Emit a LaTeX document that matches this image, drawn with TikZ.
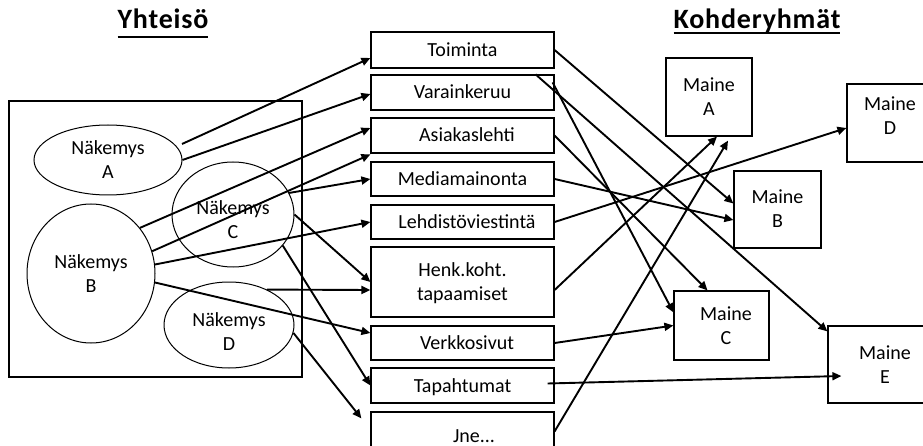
\documentclass[tikz,border=0pt]{standalone}
\usepackage{fontspec}
\setmainfont{Carlito}
\newfontfamily\titlefont[LetterSpace=3]{Carlito}
\newcommand\titleul[2]{\setbox0\hbox{#2}\rlap{\rule[-#1]{\wd0}{1.8pt}}\box0}
\usetikzlibrary{shapes.geometric,arrows.meta,calc}
\begin{document}
\begin{tikzpicture}[x=1pt,y=-1pt,
  every node/.style={font=\fontsize{20pt}{24pt}\selectfont},
  elli/.style={ellipse, draw, line width=1pt, inner sep=0pt, align=center, text height=37pt, text depth=0pt},
  mbox/.style={rectangle, draw, line width=1.2pt, minimum width=183pt, inner sep=0pt, text height=13pt, text depth=0pt, align=center},
  tbox/.style={rectangle, draw, line width=1.2pt, inner sep=0pt, text height=37pt, text depth=0pt, align=center},
  arr/.style={line width=1.9pt, -{Triangle[length=9pt,width=8pt]}},
  title/.style={font=\titlefont\fontsize{28pt}{32pt}\bfseries\selectfont, inner sep=0pt, anchor=base}
]
\useasboundingbox (0,0) rectangle (923,446);
\clip (0,0) rectangle (923,446);

% titles
\node[title] (t1) at (163,29) {\titleul{9pt}{Yhteisö}};
\node[title] (t2) at (757,29) {\titleul{5pt}{Kohderyhmät}};

% community frame and views
\node[draw, line width=1.2pt, minimum width=293pt, minimum height=276pt, inner sep=0pt] (com) at (155.5,239) {};
\node[elli, minimum width=148pt, minimum height=70pt] (eA) at (108,160) {Näkemys\\A};
\node[elli, minimum width=128pt, minimum height=139pt] (eB) at (91,273.5) {Näkemys\\B};
\node[elli, minimum width=122pt, minimum height=105pt, text height=49pt] (eC) at (233,214.5) {Näkemys\\C};
\node[elli, minimum width=130pt, minimum height=86pt, text height=51pt] (eD) at (229,325) {Näkemys\\D};

% channels
\node[mbox, minimum height=36pt] (toim) at (462.5,50) {Toiminta};
\node[mbox, minimum height=35pt] (vara) at (462.5,92.5) {Varainkeruu};
\node[mbox, minimum height=35pt] (asia) at (462.5,135.5) {\hspace*{9pt}Asiakaslehti};
\node[mbox, minimum height=34pt] (medi) at (462.5,179) {Mediamainonta};
\node[mbox, minimum height=34pt] (lehd) at (462.5,222) {\hspace*{9pt}Lehdistöviestintä};
\node[mbox, minimum height=70pt, text height=37pt] (henk) at (462.5,282) {Henk.koht.\\tapaamiset};
\node[mbox, minimum height=34pt] (verk) at (462.5,343) {\hspace*{9pt}Verkkosivut};
\node[mbox, minimum height=35pt] (tapa) at (462.5,385.5) {Tapahtumat};
\node[mbox, minimum height=48pt] (jne) at (462.5,436) {\hspace*{23pt}Jne...};

% target groups
\node[tbox, minimum width=86pt, minimum height=78pt] (mA) at (709,97) {Maine\\A};
\node[tbox, minimum width=86pt, minimum height=78pt, text depth=13pt] (mD) at (890,123) {Maine\\D};
\node[tbox, minimum width=87pt, minimum height=77pt] (mB) at (777.5,209.5) {Maine\\B};
\node[tbox, minimum width=95pt, minimum height=69pt] (mC) at (721.5,325.5) {\hspace*{9pt}Maine\\\hspace*{9pt}C};
\node[tbox, minimum width=114pt, minimum height=77pt] (mE) at (885,364.5) {Maine\\E};

% left arrows
\draw[arr] ($(eA.center)+(74,-16)$) -- ($(toim.west)+(0,8)$);
\draw[arr] (eA.east) -- ($(vara.west)+(0,1.5)$);
\draw[arr] (eB.43) -- ($(asia.west)+(0,-7.5)$);
\draw[arr] (eB.20) -- ($(medi.north west)+(0,-7)$);
\draw[arr] (eC.21) -- (medi.west);
\draw[arr] (eB.8) -- (lehd.west);
\draw[arr] (eC.east) -- (henk.west);
\draw[arr] (eD.43) -- ($(henk.west)+(0,8)$);
\draw[arr] (eB.-8) -- ($(verk.west)+(0,-10)$);
\draw[arr] (eC.-32) -- (tapa.west);
\draw[arr] (eD.-7) -- ($(jne.north west)+(-9,7)$);

% right arrows
\draw[arr] (toim.east) -- ($(mB.west)+(0,-6)$);
\draw[arr] ($(vara.north east)+(-19,0)$) -- ($(mE.north west)+(0,6)$);
\draw[arr] ($(vara.north east)+(-2,8)$) -- ($(mC.north west)+(0,22)$);
\draw[arr] (asia.east) -- ($(mC.north)+(-14,0)$);
\draw[arr] (medi.east) -- ($(mB.west)+(0,10.5)$);
\draw[arr] (lehd.east) -- ($(mD.west)+(0,5)$);
\draw[arr] ($(henk.east)+(0,8)$) -- ($(mA.south)+(8,0)$);
\draw[arr] ($(jne.north east)+(0,20)$) -- ($(mA.south)+(19,4)$);
\draw[arr] (verk.east) -- (mC.west);
\draw[arr] ($(tapa.east)+(-7,-2)$) -- ($(mE.west)+(14,11.5)$);
\end{tikzpicture}
\end{document}
